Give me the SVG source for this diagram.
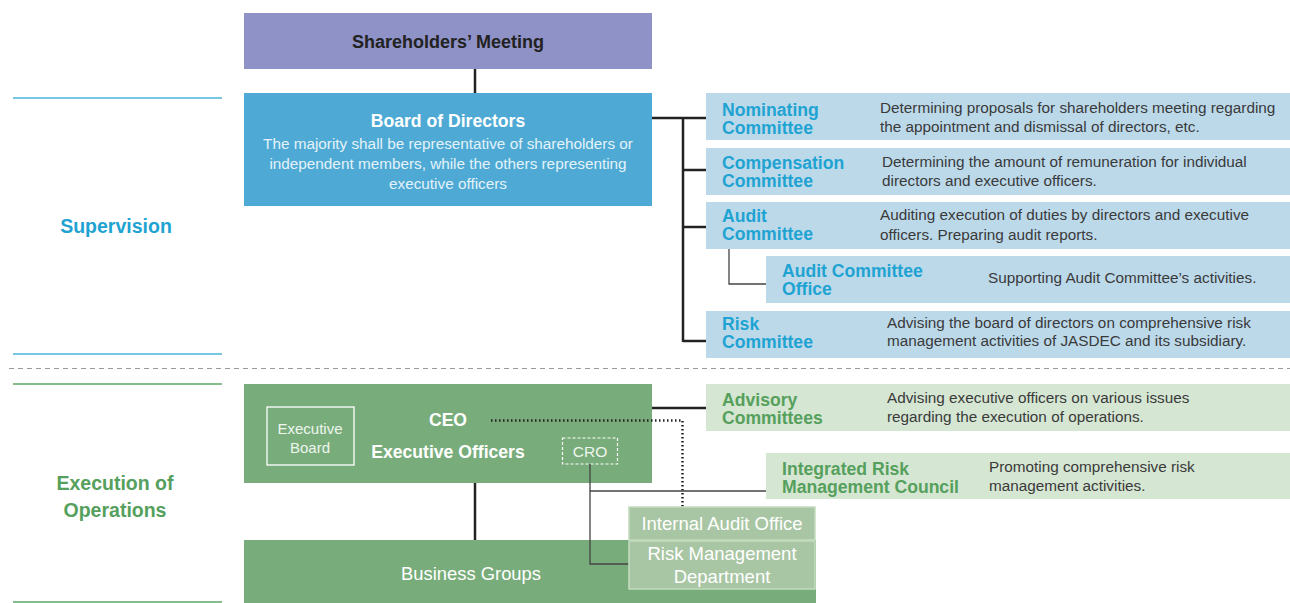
<svg xmlns="http://www.w3.org/2000/svg" width="1290" height="603" viewBox="0 0 1290 603">
<style>
text{font-family:"Liberation Sans",Arial,sans-serif}
.cn{font-size:17.6px;font-weight:bold;fill:#1ea3d2}
.gn{font-size:17.6px;font-weight:bold;fill:#55a05c}
.d{font-size:15.3px;fill:#3a3a3a}
.w{fill:#ffffff}
.blue{fill:#bcd9ea}
.lg{fill:#d5e6d3}
.ln{stroke:#222;stroke-width:2.5;fill:none}
.tn{stroke:#444;stroke-width:1.3;fill:none}
</style>
<rect width="1290" height="603" fill="#ffffff"/>
<g id="side">
<line x1="13" y1="98" x2="222" y2="98" stroke="#4bb4d8" stroke-width="1.5"/>
<line x1="13" y1="354" x2="222" y2="354" stroke="#4bb4d8" stroke-width="1.5"/>
<line x1="9" y1="368.5" x2="1290" y2="368.5" stroke="#9a9a9a" stroke-width="1.2" stroke-dasharray="5,4"/>
<line x1="13" y1="384" x2="222" y2="384" stroke="#5aa765" stroke-width="1.5"/>
<line x1="13" y1="602" x2="222" y2="602" stroke="#5aa765" stroke-width="1.5"/>
<text x="116" y="233" text-anchor="middle" font-size="19.5" font-weight="bold" fill="#1ea3d2">Supervision</text>
<text x="115" y="490" text-anchor="middle" font-size="19.5" font-weight="bold" fill="#55a05c">Execution of</text>
<text x="115" y="517" text-anchor="middle" font-size="19.5" font-weight="bold" fill="#55a05c">Operations</text>
</g>
<g id="shareholders">
<rect x="244" y="13" width="408" height="56" fill="#8f92c6"/>
<text x="448" y="48" text-anchor="middle" font-size="18" font-weight="bold" fill="#222">Shareholders’ Meeting</text>
</g>
<g id="board">
<rect x="244" y="93" width="408" height="113" fill="#4eaad4"/>
<text x="448" y="127" text-anchor="middle" font-size="17.6" font-weight="bold" class="w">Board of Directors</text>
<text x="448" y="149" text-anchor="middle" font-size="15.3" fill="#e4f2f9">The majority shall be representative of  shareholders or</text>
<text x="448" y="169" text-anchor="middle" font-size="15.3" fill="#e4f2f9">independent members, while the others representing</text>
<text x="448" y="189" text-anchor="middle" font-size="15.3" fill="#e4f2f9">executive officers</text>
</g>
<g id="nominating">
<rect class="blue" x="706" y="93" width="584" height="47"/>
<text class="cn" x="722" y="116">Nominating</text>
<text class="cn" x="722" y="134">Committee</text>
<text class="d" x="880" y="113">Determining proposals for shareholders meeting regarding</text>
<text class="d" x="880" y="132">the appointment and dismissal of directors, etc.</text>
</g>
<g id="compensation">
<rect class="blue" x="706" y="148" width="584" height="47"/>
<text class="cn" x="722" y="169">Compensation</text>
<text class="cn" x="722" y="187">Committee</text>
<text class="d" x="882" y="167">Determining the amount of remuneration for individual</text>
<text class="d" x="882" y="186">directors and executive officers.</text>
</g>
<g id="audit">
<rect class="blue" x="706" y="202" width="584" height="47"/>
<text class="cn" x="722" y="222">Audit</text>
<text class="cn" x="722" y="240">Committee</text>
<text class="d" x="880" y="220">Auditing execution of duties by directors and executive</text>
<text class="d" x="880" y="240">officers. Preparing audit reports.</text>
</g>
<g id="audit-office">
<rect class="blue" x="766" y="256" width="524" height="47"/>
<text class="cn" x="782" y="277">Audit Committee</text>
<text class="cn" x="782" y="295">Office</text>
<text class="d" x="988" y="283">Supporting Audit Committee’s activities.</text>
</g>
<g id="risk">
<rect class="blue" x="706" y="311" width="584" height="47"/>
<text class="cn" x="722" y="330">Risk</text>
<text class="cn" x="722" y="348">Committee</text>
<text class="d" x="887" y="328">Advising the board of directors on comprehensive risk</text>
<text class="d" x="887" y="346">management activities of JASDEC and its subsidiary.</text>
</g>
<g id="executive">
<rect x="244" y="384" width="408" height="99" fill="#78ad7b"/>
<rect x="267" y="407" width="87" height="58" fill="none" stroke="#ffffff" stroke-width="1.3"/>
<text x="310" y="434" text-anchor="middle" font-size="15" fill="#eef5ee">Executive</text>
<text x="310" y="453" text-anchor="middle" font-size="15" fill="#eef5ee">Board</text>
<text x="448" y="426" text-anchor="middle" font-size="17.6" font-weight="bold" class="w">CEO</text>
<text x="448" y="458" text-anchor="middle" font-size="17.6" font-weight="bold" class="w">Executive Officers</text>
<rect x="562.5" y="438" width="55" height="26" fill="none" stroke="#ffffff" stroke-width="1.2" stroke-dasharray="3,2"/>
<text x="590" y="457" text-anchor="middle" font-size="15.5" fill="#eef5ee">CRO</text>
</g>
<g id="advisory">
<rect class="lg" x="706" y="384" width="584" height="47"/>
<text class="gn" x="722" y="406">Advisory</text>
<text class="gn" x="722" y="424">Committees</text>
<text class="d" x="887" y="403">Advising executive officers on various issues</text>
<text class="d" x="887" y="422">regarding the execution of operations.</text>
</g>
<g id="integrated">
<rect class="lg" x="766" y="453" width="524" height="46"/>
<text class="gn" x="782" y="475">Integrated Risk</text>
<text class="gn" x="782" y="493">Management Council</text>
<text class="d" x="989" y="472">Promoting comprehensive risk</text>
<text class="d" x="989" y="491">management activities.</text>
</g>
<g id="business">
<rect x="244" y="540" width="572" height="63" fill="#78ad7b"/>
<text x="471" y="580" text-anchor="middle" font-size="18.4" class="w">Business Groups</text>
</g>
<g id="connectors">
<line class="ln" x1="475" y1="69" x2="475" y2="93"/>
<line class="ln" x1="652" y1="118" x2="683" y2="118"/>
<line class="ln" x1="683" y1="117" x2="683" y2="342"/>
<line class="ln" x1="683" y1="118" x2="706" y2="118"/>
<line class="ln" x1="683" y1="170" x2="706" y2="170"/>
<line class="ln" x1="683" y1="227" x2="706" y2="227"/>
<line class="ln" x1="683" y1="341" x2="706" y2="341"/>
<polyline class="tn" points="729,249 729,284 766,284"/>
<line class="ln" x1="652" y1="408" x2="706" y2="408"/>
<polyline points="491,420.5 682.5,420.5 682.5,507" fill="none" stroke="#222" stroke-width="2.5" stroke-dasharray="1.5,2.5"/>
<polyline class="tn" points="590,464 590,564 629,564"/>
<line class="tn" x1="590" y1="491" x2="766" y2="491"/>
<line class="ln" x1="475" y1="483" x2="475" y2="540"/>
</g>
<g id="internal-audit">
<rect x="629" y="507" width="186" height="33" fill="#a9c6a4" stroke="#c3dbbf" stroke-width="1.5"/>
<text x="722" y="530" text-anchor="middle" font-size="18.5" class="w">Internal Audit Office</text>
</g>
<g id="risk-dept">
<rect x="629" y="541" width="186" height="48" fill="#a9c6a4" stroke="#c3dbbf" stroke-width="1.5"/>
<text x="722" y="560" text-anchor="middle" font-size="18.5" class="w">Risk Management</text>
<text x="722" y="583" text-anchor="middle" font-size="18.5" class="w">Department</text>
</g>
</svg>
